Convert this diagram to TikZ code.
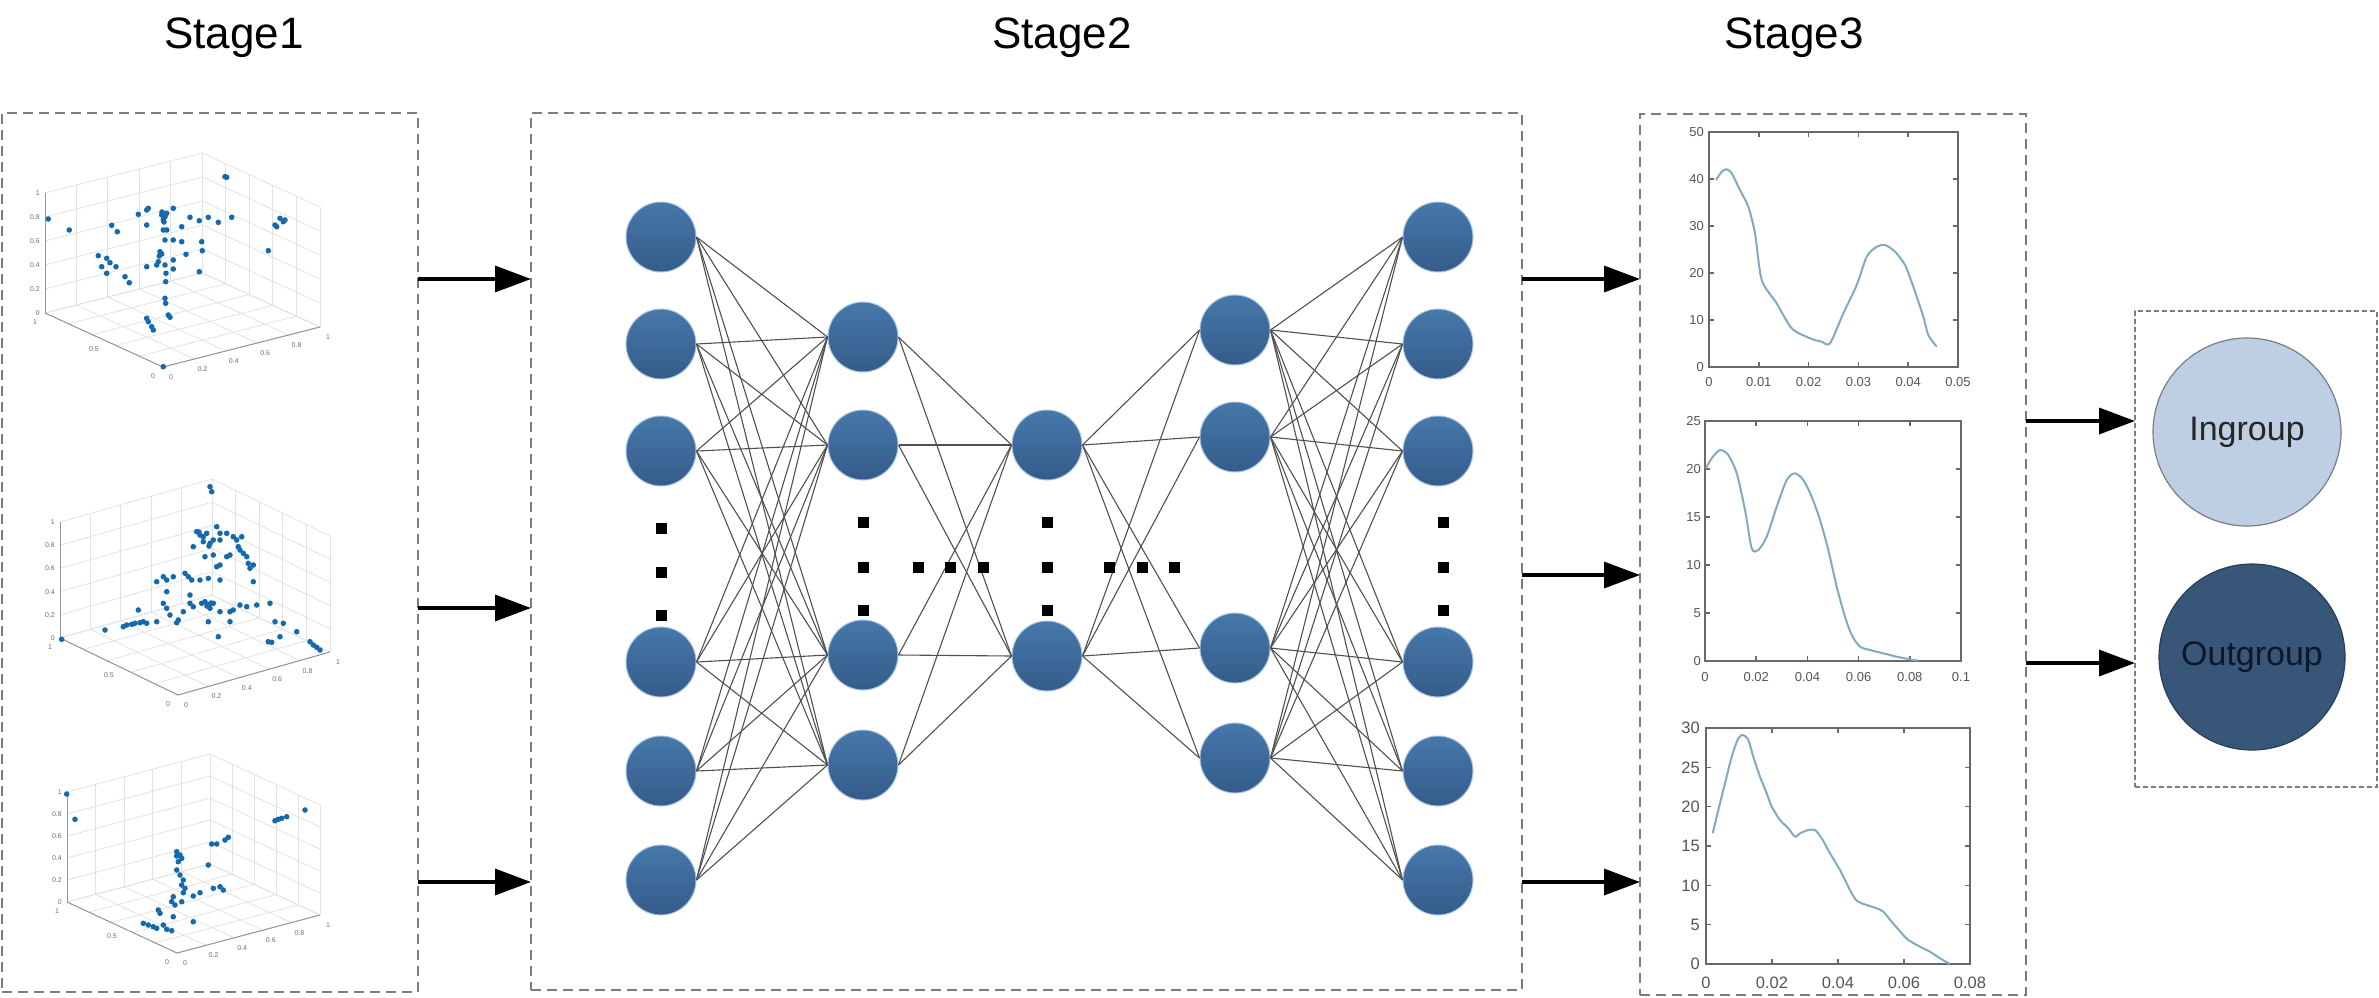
\documentclass[tikz,border=0pt]{standalone}
\usepackage{fontspec}
\setmainfont{Liberation Sans}
\usetikzlibrary{arrows.meta,calc}
\definecolor{nodetop}{RGB}{70,120,170}
\definecolor{nodebot}{RGB}{52,92,138}
\definecolor{nodeedge}{RGB}{168,196,226}
\definecolor{conngray}{RGB}{80,80,80}
\definecolor{dashgray}{RGB}{125,125,125}
\definecolor{gridgray}{RGB}{226,226,226}
\definecolor{axisgray}{RGB}{150,150,150}
\definecolor{tickgray}{RGB}{110,110,110}
\definecolor{scatblue}{RGB}{20,105,175}
\definecolor{plotaxis}{RGB}{105,105,105}
\definecolor{ticktext}{RGB}{85,85,85}
\definecolor{curvecol}{RGB}{128,170,192}
\definecolor{infill}{RGB}{190,207,227}
\definecolor{inedge}{RGB}{120,125,135}
\definecolor{outfill}{RGB}{56,86,120}
\definecolor{outedge}{RGB}{40,62,90}
\definecolor{outtext}{RGB}{12,24,40}

\newcommand\axesthreed[4]{%
  \coordinate (sF) at #1; \coordinate (sR) at #2; \coordinate (sL) at #3;
  \coordinate (sB) at ($(sL)+(sR)-(sF)$);
  \coordinate (sH) at (0,-#4);
  \foreach \k in {0,...,5}{
    \draw[grid3] ($(sF)!\k/5!(sR)$) -- ($(sL)!\k/5!(sB)$);
    \draw[grid3] ($(sF)!\k/5!(sL)$) -- ($(sR)!\k/5!(sB)$);
    \draw[grid3] ($(sL)!\k/5!(sB)$) -- ($(sL)!\k/5!(sB)+(sH)$);
    \draw[grid3] ($(sR)!\k/5!(sB)$) -- ($(sR)!\k/5!(sB)+(sH)$);
    \draw[grid3] ($(sL)+\k/5*(sH)$) -- ($(sB)+\k/5*(sH)$);
    \draw[grid3] ($(sR)+\k/5*(sH)$) -- ($(sB)+\k/5*(sH)$);
  }
  \draw[axis3] (sL) -- (sF) -- (sR);
  \draw[axis3] (sL) -- ($(sL)+(sH)$);
  \foreach \k/\lab in {0/0,1/0.2,2/0.4,3/0.6,4/0.8,5/1}{
    \node[tick3,anchor=east] at ($(sL)+\k/5*(sH)+(-5,0)$) {\lab};
    \node[tick3] at ($(sF)!\k/5!(sR)+(8,10)$) {\lab};
  }
  \foreach \k/\lab in {0/0,1/0.5,2/1}{
    \node[tick3] at ($(sF)!\k/2!(sL)+(-10,9)$) {\lab};
  }
}

\begin{document}
\begin{tikzpicture}[x=1pt,y=-1pt,
  dbox/.style={draw=dashgray, dash pattern=on 10pt off 6pt, line width=2pt, inner sep=0pt, outer sep=0pt},
  sbox/.style={draw=dashgray, dash pattern=on 5pt off 3pt, line width=1.5pt, inner sep=0pt, outer sep=0pt},
  neuron/.style={circle, minimum size=70pt, inner sep=0pt, top color=nodetop, bottom color=nodebot, draw=nodeedge, line width=1pt},
  conn/.style={draw=conngray, line width=1.1pt},
  bigarrow/.style={draw=black, line width=3.5pt, -{Triangle[length=36pt,width=26pt]}},
  ellip/.style={fill=black, rectangle, inner sep=0pt, minimum size=11pt},
  title/.style={font=\fontsize{44}{52}\selectfont, anchor=base, inner sep=0pt},
  grid3/.style={draw=gridgray, line width=0.8pt},
  axis3/.style={draw=axisgray, line width=1pt},
  tick3/.style={font=\fontsize{7}{8}\selectfont, text=tickgray, inner sep=0pt},
  sdot/.style={fill=scatblue},
  pax/.style={draw=plotaxis, line width=1.5pt},
  tickA/.style={font=\fontsize{13}{14}\selectfont, text=ticktext, inner sep=0pt},
  tickB/.style={font=\fontsize{16.5}{18}\selectfont, text=ticktext, inner sep=0pt},
  curve/.style={draw=curvecol, line width=2pt},
  group/.style={circle, minimum size=188pt, inner sep=0pt, line width=1.2pt, font=\fontsize{34}{40}\selectfont}
]
\path[use as bounding box] (0,0) rectangle (2379,997);

% ---------- titles ----------
\node[title] (t1) at (234,48) {Stage1};
\node[title] (t2) at (1062,48) {Stage2};
\node[title] (t3) at (1794,48) {Stage3};

% ---------- boxes ----------
\node[dbox, minimum width=416pt, minimum height=879pt] (box1) at (210,552.5) {};
\node[dbox, minimum width=991pt, minimum height=877pt] (box2) at (1026.5,551.5) {};
\node[dbox, minimum width=386pt, minimum height=881pt] (box3) at (1833,554.5) {};
\node[sbox, minimum width=242pt, minimum height=476pt] (box4) at (2256,549) {};

% ---------- Stage 1 scatter plots ----------
\axesthreed{(163,367)}{(320,327)}{(45,313)}{120}
\foreach \p in {(48.3,219),(69.3,230),(138.3,214.3),(146.7,210),(148.3,208.3),(161.7,215),(165,216.7),(166.7,213.3),(173.3,208.3),(163.3,220),(146.7,225),(111.7,225.3),(117.3,231.7),(163.3,230),(166.7,230),(181.7,226.7),(190,217.3),(199.3,220.7),(208.3,217.3),(218.3,222.3),(231.7,217.3),(225,176.7),(226.7,177.3),(280,218.3),(283.3,221.7),(276.7,226.7),(275,225),(285,220),(268.3,250.7),(201.7,241.7),(202.3,250.7),(186,254.3),(173.3,240),(181.7,241.7),(165,240),(160,251.7),(161.7,254),(159.3,256),(98.3,255.7),(106.7,258.3),(110,262.7),(116,266.7),(101.7,266.7),(106.7,273.3),(125,276.7),(129.3,282.7),(146.7,266.7),(156.7,265),(158.3,261.7),(165,265),(173.3,260),(173.3,269),(166,273.3),(165.7,281.7),(199.3,271.7),(165,298.3),(165.7,303.3),(168.3,315),(170,317.3),(146.7,318.3),(148.3,321.7),(151.7,326.7),(153.3,330),(163.3,366.7),(162,212),(164,222)}
  \fill[sdot] \p circle (2.8);

\axesthreed{(178,695)}{(330,652)}{(60,638)}{116}
\foreach \p in {(210,486.7),(211.7,491.7),(196.7,531.7),(200,535),(203.3,536.7),(206.7,533.3),(216.7,526.7),(220,533.3),(226.7,533.3),(233.3,536.7),(236.7,540),(241.7,536.7),(193.3,546.7),(203.3,541.7),(210,543.3),(213.3,540),(220,540),(205,556.7),(213.3,555),(226.7,556.7),(230,555),(216.7,566.7),(220,565),(238.3,546.7),(240,550),(243.3,553.3),(246.7,556.7),(248.3,563.3),(253.3,565),(250,568.3),(253.3,581.7),(156.7,581.7),(163.3,576.7),(166.7,580),(173.3,576.7),(185,573.3),(188.3,576.7),(191.7,580),(200,580),(208.3,578.3),(220,580),(166.7,591.7),(190,595),(163.3,603.3),(166.7,608.3),(170,615),(178.3,620),(176.7,622.7),(183.3,611.7),(190,603.3),(193.3,606.7),(201.7,603.3),(205,601.7),(208.3,605),(210,608.3),(213.3,603.3),(208.3,621.7),(220,611.7),(230,611.7),(233.3,610),(240,605),(246.7,606.7),(256.7,605),(230,621.7),(218.3,636.7),(270,603.3),(275,621.7),(283.3,623.3),(280,636.7),(268.3,641.7),(271.7,642.3),(296.7,631.7),(310,641.7),(313.3,645),(316.7,647.3),(320,650),(138.3,610),(156.7,621.7),(146.7,623.3),(143.3,621.7),(140,622.7),(135,623.3),(131.7,624.3),(126.7,625),(123.3,626.7),(105,630),(61.7,639.3),(199,532),(209,546),(207,606),(211,603)}
  \fill[sdot] \p circle (2.8);

\axesthreed{(177,953)}{(320,915)}{(67,902)}{110}
\foreach \p in {(66.7,794),(75,819.3),(176.7,851.7),(180,855),(181.7,858.3),(178.3,861.7),(176.7,856),(208.3,865),(176.7,870),(180,875),(183.3,880),(181.7,885),(185,888.3),(183.3,892.7),(193.3,896),(200,892.7),(213.3,888.3),(220,886.7),(223.3,890),(173.3,896.7),(171.7,901.7),(175,905),(181.7,901.7),(158.3,910),(160,913.3),(173.3,916.7),(193.3,921.7),(143.3,923.3),(148.3,925),(153.3,926.7),(156.7,928.3),(163.3,925),(166.7,929.3),(171.7,930.7),(211.7,844),(216.7,844),(225,840),(228.3,837.3),(275,820.7),(278.3,819.3),(281.7,818.3),(286.7,816.7),(305,810)}
  \fill[sdot] \p circle (2.8);

% ---------- Stage 2 network ----------
\foreach \i/\y in {1/237,2/344,3/451,4/662,5/771,6/880} \node[neuron] (a\i) at (661,\y) {};
\foreach \i/\y in {1/337,2/445,3/655,4/765} \node[neuron] (b\i) at (863,\y) {};
\foreach \i/\y in {1/445,2/656} \node[neuron] (c\i) at (1047,\y) {};
\foreach \i/\y in {1/330,2/437,3/648,4/758} \node[neuron] (d\i) at (1235,\y) {};
\foreach \i/\y in {1/237,2/344,3/451,4/662,5/771,6/880} \node[neuron] (e\i) at (1438,\y) {};

\foreach \i in {1,...,6} \foreach \j in {1,...,4} \draw[conn] (a\i.east) -- (b\j.west);
\foreach \i in {1,...,4} \foreach \j in {1,2} \draw[conn] (b\i.east) -- (c\j.west);
\foreach \i in {1,2} \foreach \j in {1,...,4} \draw[conn] (c\i.east) -- (d\j.west);
\foreach \i in {1,...,4} \foreach \j in {1,...,6} \draw[conn] (d\i.east) -- (e\j.west);

\foreach \i/\y in {1/528,2/572,3/615} \node[ellip] (pa\i) at (661,\y) {};
\foreach \i/\y in {1/522,2/567,3/610} \node[ellip] (pb\i) at (863,\y) {};
\foreach \i/\y in {1/522,2/567,3/610} \node[ellip] (pc\i) at (1047,\y) {};
\foreach \i/\y in {1/522,2/567,3/610} \node[ellip] (pe\i) at (1443,\y) {};
\foreach \i/\x in {1/918,2/950,3/983} \node[ellip] (hb\i) at (\x,567) {};
\foreach \i/\x in {1/1109,2/1142,3/1174} \node[ellip] (hc\i) at (\x,567) {};

% ---------- Stage 3 plots ----------
% plot 1
\draw[pax] (1709,132) rectangle (1958,367);
\foreach \k/\lab in {0/0,1/0.01,2/0.02,3/0.03,4/0.04,5/0.05}{
  \pgfmathsetmacro\xx{1709+\k*249/5}
  \draw[pax] (\xx,367) -- ++(0,-5);
  \draw[pax] (\xx,132) -- ++(0,5);
  \node[tickA] at (\xx,382) {\lab};
}
\foreach \k/\lab in {0/0,1/10,2/20,3/30,4/40,5/50}{
  \pgfmathsetmacro\yy{367-\k*235/5}
  \draw[pax] (1709,\yy) -- ++(5,0);
  \draw[pax] (1958,\yy) -- ++(-5,0);
  \node[tickA,anchor=east] at (1704,\yy) {\lab};
}
\draw[curve] plot[smooth, tension=0.45] coordinates {(1716,180) (1721.7,171.7) (1726.7,169.3) (1731.7,173.3) (1740,190) (1748.3,206.7) (1755,233.3) (1761.7,280) (1776.7,303.3) (1791.7,328.3) (1810,338.3) (1821.7,341.7) (1830,343.3) (1843.3,313.3) (1856.7,285) (1866.7,256.7) (1876.7,246.7) (1885,245) (1895,251.7) (1905,265) (1913.3,286.7) (1923.3,316.7) (1928.3,335) (1936.7,346.7)};

% plot 2
\draw[pax] (1705,421) rectangle (1961,661);
\foreach \k/\lab in {0/0,1/0.02,2/0.04,3/0.06,4/0.08,5/0.1}{
  \pgfmathsetmacro\xx{1705+\k*256/5}
  \draw[pax] (\xx,661) -- ++(0,-5);
  \draw[pax] (\xx,421) -- ++(0,5);
  \node[tickA] at (\xx,677) {\lab};
}
\foreach \k/\lab in {0/0,1/5,2/10,3/15,4/20,5/25}{
  \pgfmathsetmacro\yy{661-\k*240/5}
  \draw[pax] (1705,\yy) -- ++(5,0);
  \draw[pax] (1961,\yy) -- ++(-5,0);
  \node[tickA,anchor=east] at (1701,\yy) {\lab};
}
\draw[curve] plot[smooth, tension=0.45] coordinates {(1706,468.3) (1711.7,458.3) (1720,450) (1728.3,455) (1736.7,473.3) (1745,510) (1751.7,548.3) (1758.3,550) (1766.7,536.7) (1776.7,506.7) (1786.7,480) (1795,473.3) (1803.3,480) (1811.7,496.7) (1820,520) (1828.3,550) (1836.7,586.7) (1845,616.7) (1851.7,635) (1860,646.7) (1870,650) (1883.3,653.3) (1896.7,656.7) (1910,659.3) (1918.3,660.7)};

% plot 3
\draw[pax] (1706,728) rectangle (1970,964);
\foreach \k/\lab in {0/0,1/0.02,2/0.04,3/0.06,4/0.08}{
  \pgfmathsetmacro\xx{1706+\k*264/4}
  \draw[pax] (\xx,964) -- ++(0,-5);
  \draw[pax] (\xx,728) -- ++(0,5);
  \node[tickB] at (\xx,983) {\lab};
}
\foreach \k/\lab in {0/0,1/5,2/10,3/15,4/20,5/25,6/30}{
  \pgfmathsetmacro\yy{964-\k*236/6}
  \draw[pax] (1706,\yy) -- ++(5,0);
  \draw[pax] (1970,\yy) -- ++(-5,0);
  \node[tickB,anchor=east] at (1700,\yy) {\lab};
}
\draw[curve] plot[smooth, tension=0.45] coordinates {(1712.7,833.3) (1718.3,810) (1725,783.3) (1731.7,756.7) (1738.3,738.3) (1743.3,735) (1748.3,740) (1753.3,756.7) (1760,776.7) (1766.7,793.3) (1771.7,806.7) (1780,820) (1788.3,828.3) (1795,836.7) (1800,833.3) (1808.3,830) (1815,830) (1821.7,838.3) (1830,853.3) (1840,870) (1850,890) (1856.7,900.7) (1866.7,905) (1876.7,908.3) (1883.3,911.7) (1891.7,921.7) (1901.7,933.3) (1908.3,940) (1920,946.7) (1930,951.7) (1940,958.3) (1950,964)};

% ---------- Stage 4 groups ----------
\node[group, fill=infill, draw=inedge, text=black!85] (ingroup) at (2247,432) {Ingroup};
\node[group, fill=outfill, draw=outedge, text=outtext, minimum size=186pt] (outgroup) at (2252,657) {Outgroup};

% ---------- arrows ----------
\coordinate (ya) at (0,279);
\coordinate (yb) at (0,608);
\coordinate (yc) at (0,882);
\coordinate (yd) at (0,575);
\coordinate (ye) at (0,421);
\coordinate (yf) at (0,663);
\draw[bigarrow] (box1.east |- ya) -- (box2.west |- ya);
\draw[bigarrow] (box1.east |- yb) -- (box2.west |- yb);
\draw[bigarrow] (box1.east |- yc) -- (box2.west |- yc);
\draw[bigarrow] (box2.east |- ya) -- (box3.west |- ya);
\draw[bigarrow] (box2.east |- yd) -- (box3.west |- yd);
\draw[bigarrow] (box2.east |- yc) -- (box3.west |- yc);
\draw[bigarrow] (box3.east |- ye) -- (box4.west |- ye);
\draw[bigarrow] (box3.east |- yf) -- (box4.west |- yf);
\end{tikzpicture}
\end{document}
